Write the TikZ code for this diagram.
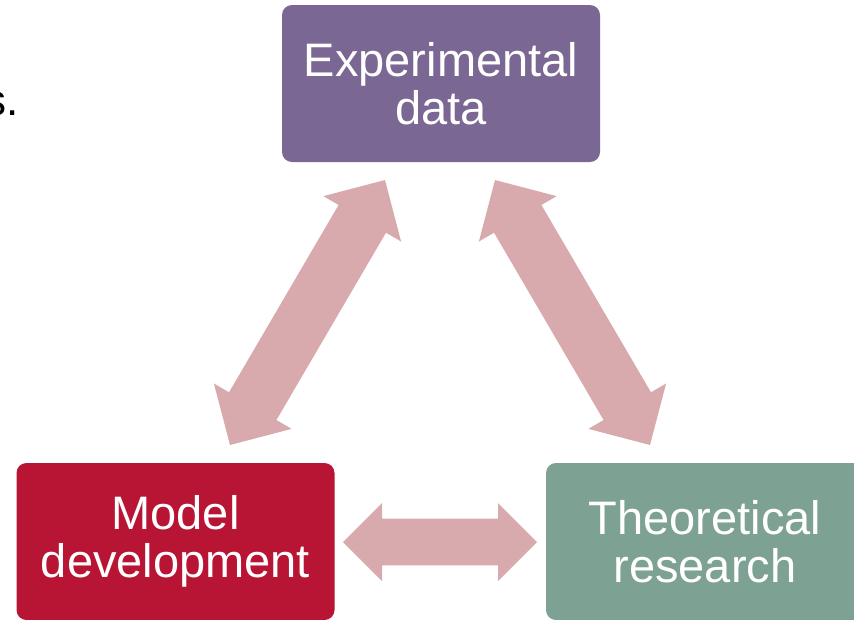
\documentclass[tikz,border=0pt]{standalone}
\usepackage{fontspec}
\setmainfont{Liberation Sans}
\usetikzlibrary{calc}
\definecolor{exppurple}{RGB}{122,103,147}
\definecolor{modred}{RGB}{184,20,52}
\definecolor{theogreen}{RGB}{125,161,147}
\definecolor{arrowpink}{RGB}{217,170,173}
% #1 tip A, #2 tip B, #3 head length, #4 head half width, #5 shaft half width
\newcommand{\dblblockarrow}[5]{%
  \fill[arrowfill] (#1)
    -- ($(#1)!#3!(#2)!#4!90:(#2)$)
    -- ($(#1)!#3!(#2)!#5!90:(#2)$)
    -- ($(#2)!#3!(#1)!#5!90:(#2)$)
    -- ($(#2)!#3!(#1)!#4!90:(#2)$)
    -- (#2)
    -- ($(#2)!#3!(#1)!#4!-90:(#2)$)
    -- ($(#2)!#3!(#1)!#5!-90:(#2)$)
    -- ($(#1)!#3!(#2)!#5!-90:(#2)$)
    -- ($(#1)!#3!(#2)!#4!-90:(#2)$)
    -- cycle;}
\begin{document}
\begin{tikzpicture}[x=0.75pt,y=-0.75pt,
  box/.style={rounded corners=7.5pt, minimum width=238.5pt, minimum height=117.75pt,
    inner sep=0pt, align=center, text=white,
    font=\fontsize{35.25}{36.4}\selectfont},
  arrowfill/.style={fill=arrowpink}]
\useasboundingbox (0,0) rectangle (854,619);
\clip (0,0) rectangle (854,619);
\node[anchor=base east, font=\fontsize{33}{36}\selectfont, text=black, inner sep=0pt] (s) at (19,115) {s.};
\node[box, fill=exppurple] (exp) at (441,83.5) {Experimental\\data};
\node[box, fill=modred] (mod) at (175.5,541.5) {Model\\development};
\node[box, fill=theogreen] (theo) at (705,541.5) {Theoretical\\research};
\coordinate (l1) at (230,445);
\coordinate (l2) at (385,180);
\coordinate (r1) at (495,180);
\coordinate (r2) at (650,445);
\coordinate (h1) at (343,542);
\coordinate (h2) at (537,542);
\dblblockarrow{l1}{l2}{33.75pt}{33.75pt}{20.6pt}
\dblblockarrow{r1}{r2}{33.75pt}{33.75pt}{20.6pt}
\dblblockarrow{h1}{h2}{29.25pt}{29.25pt}{17.6pt}
\end{tikzpicture}
\end{document}
